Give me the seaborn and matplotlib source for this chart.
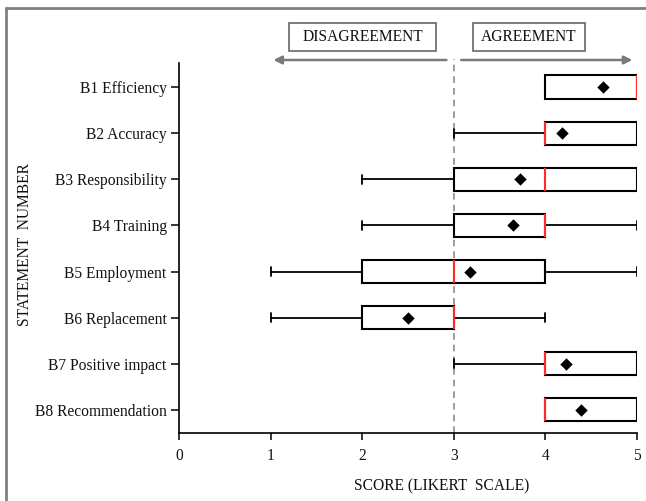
import numpy as np
import matplotlib
matplotlib.use("Agg")
import matplotlib.pyplot as plt
from matplotlib.patches import Rectangle
from matplotlib.lines import Line2D
import seaborn as sns

categories = ["B1 Efficiency", "B2 Accuracy", "B3 Responsibility", "B4 Training",
              "B5 Employment", "B6 Replacement", "B7 Positive impact", "B8 Recommendation"]
whisker_low = [4, 3, 2, 2, 1, 1, 3, 4]
q1 = [4, 4, 3, 3, 2, 2, 4, 4]
median = [5, 4, 4, 4, 3, 3, 4, 4]
q3 = [5, 5, 5, 4, 4, 3, 5, 5]
whisker_high = [5, 5, 5, 5, 5, 4, 5, 5]
means = [4.63, 4.18, 3.72, 3.65, 3.18, 2.50, 4.22, 4.39]
x_ticks = [0, 1, 2, 3, 4, 5]

sns.set_style("ticks")
plt.rcParams['font.family'] = ['Liberation Serif', 'DejaVu Serif']
plt.rcParams['text.color'] = '#111111'
plt.rcParams['xtick.labelcolor'] = '#111111'
plt.rcParams['ytick.labelcolor'] = '#111111'

W, H = 646, 501
FS = 11.2
fig = plt.figure(figsize=(W / 100, H / 100), dpi=100)
ax = fig.add_axes([179 / W, 1 - 433 / H, (637 - 179) / W, (433 - 63) / H])

positions = np.arange(len(categories))
stats = []
for i, c in enumerate(categories):
    stats.append(dict(label=c, whislo=whisker_low[i], q1=q1[i], med=median[i],
                      q3=q3[i], whishi=whisker_high[i], fliers=[]))

ax.axvline(3, ymin=0, ymax=1.01, color="#8c8c8c", lw=1.2, ls=(0, (4, 3)),
           clip_on=False, zorder=1)

ax.bxp(stats, positions=positions, widths=0.5, capwidths=0.2,
       orientation="horizontal", showfliers=False, patch_artist=True,
       boxprops=dict(facecolor="white", edgecolor="black", lw=1.5),
       whiskerprops=dict(color="black", lw=1.3),
       capprops=dict(color="black", lw=1.3),
       medianprops=dict(color="#ff2a2a", lw=1.5), manage_ticks=False)

sns.scatterplot(x=means, y=positions, marker="D", color="black", s=40,
                edgecolor="black", linewidth=0, ax=ax, zorder=5, legend=False)

ax.set_xlim(0, 5)
ax.set_ylim(7.5, -0.52)
ax.set_xticks(x_ticks)
ax.set_xticklabels([str(t) for t in x_ticks], fontsize=FS)
ax.set_yticks(positions)
ax.set_yticklabels(categories, fontsize=FS)
ax.tick_params(axis="y", length=6, width=1.1, color="black", pad=3)
ax.tick_params(axis="x", length=5, width=1.1, color="black", pad=6)
sns.despine(ax=ax)
for s in ["left", "bottom"]:
    ax.spines[s].set_color("black")
    ax.spines[s].set_linewidth(1.2)
ax.set_xlabel("")
ax.set_ylabel("")

# axis titles
fig.text(442 / W, 1 - 486 / H, "SCORE (LIKERT  SCALE)", ha="center", va="center", fontsize=FS)
fig.text(25 / W, 1 - 245 / H, "STATEMENT  NUMBER", ha="center", va="center",
         rotation=90, fontsize=FS)

# arrows
arrow_y = (433 - 60) / (433 - 63)
gray = "#7a7a7a"
ax.annotate("", xy=(1.0, arrow_y), xytext=(2.95, arrow_y),
            xycoords=("data", "axes fraction"), textcoords=("data", "axes fraction"),
            arrowprops=dict(arrowstyle="-|>", color=gray, lw=1.8, mutation_scale=12),
            annotation_clip=False)
ax.annotate("", xy=(4.98, arrow_y), xytext=(3.05, arrow_y),
            xycoords=("data", "axes fraction"), textcoords=("data", "axes fraction"),
            arrowprops=dict(arrowstyle="-|>", color=gray, lw=1.8, mutation_scale=12),
            annotation_clip=False)

# labelled boxes
for (x0, x1, label) in [(289, 436, "DISAGREEMENT"), (473, 585, "AGREEMENT")]:
    y0, y1 = 23, 51
    fig.patches.append(Rectangle((x0 / W, 1 - y1 / H), (x1 - x0) / W, (y1 - y0) / H,
                                 transform=fig.transFigure, fill=False,
                                 edgecolor="#666666", lw=1.2))
    fig.text((x0 + x1) / 2 / W, 1 - 37 / H, label, ha="center", va="center", fontsize=FS)

# outer frame (top and left)
fig.lines.append(Line2D([6 / W, 6 / W], [0, 1 - 8 / H], transform=fig.transFigure,
                        color="#808080", lw=2))
fig.lines.append(Line2D([6 / W, 1], [1 - 8 / H, 1 - 8 / H], transform=fig.transFigure,
                        color="#808080", lw=2))

fig.savefig("out.png", dpi=100)
